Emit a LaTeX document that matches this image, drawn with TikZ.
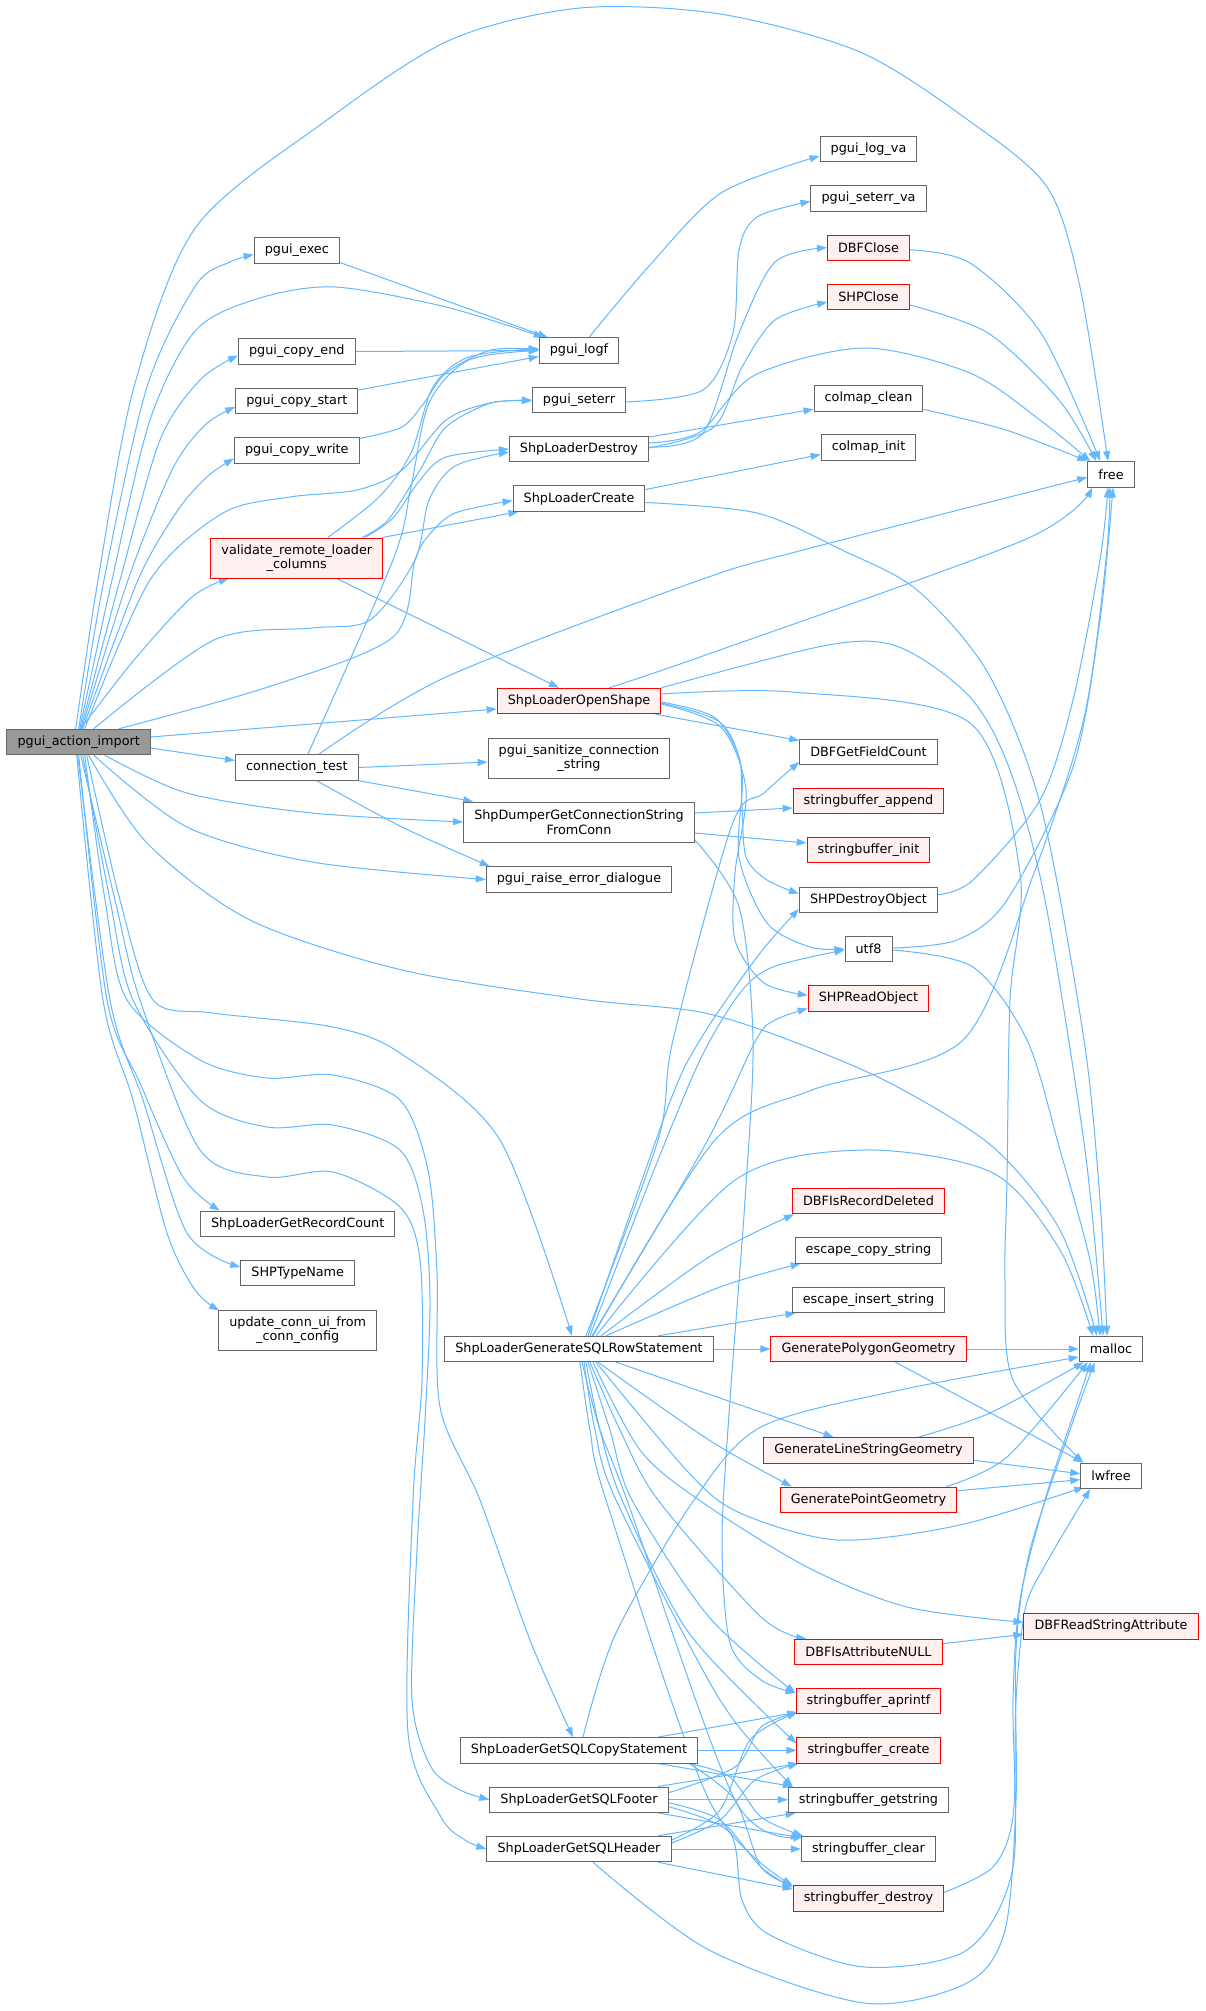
\documentclass[tikz,border=0pt]{standalone}
\usepackage{fontspec}
\setmainfont{DejaVu Sans}
\usetikzlibrary{arrows.meta}
\definecolor{edgec}{HTML}{63B8FF}
\definecolor{boxgray}{HTML}{666666}
\definecolor{rootfill}{HTML}{999999}
\definecolor{redfill}{HTML}{FFF0F0}
\pgfdeclarelayer{bg}
\pgfsetlayers{bg,main}
\tikzset{
  box/.style={draw=boxgray, fill=white, line width=1pt, font=\fontsize{12.8pt}{14.5pt}\selectfont,
    inner xsep=10.6pt, inner ysep=0pt, minimum height=25.4pt, align=center, text=black},
  hl/.style={box, draw=red, fill=redfill},
  root/.style={box, fill=rootfill},
  two/.style={minimum height=40pt},
  edge/.style={draw=edgec, line width=1pt, -{Triangle[length=10pt,width=7pt]}},
}
\begin{document}
\begin{tikzpicture}[x=1pt,y=-1pt]
\useasboundingbox (0,0) rectangle (1205,2011);
% ---------------- nodes -----------------
\node[root] (imp) at (78.7,742) {pgui\_action\_import};
\node[box] (exec) at (296.8,250.5) {pgui\_exec};
\node[box] (cend) at (296.8,351.5) {pgui\_copy\_end};
\node[box] (cstart) at (296.8,401) {pgui\_copy\_start};
\node[box] (cwrite) at (296.8,450.5) {pgui\_copy\_write};
\node[hl,two] (valid) at (296.8,558) {validate\_remote\_loader\\\_columns};
\node[box] (conn) at (296.8,767.5) {connection\_test};
\node[box] (grc) at (297.7,1223.7) {ShpLoaderGetRecordCount};
\node[box] (stn) at (297.7,1273) {SHPTypeName};
\node[box,two] (upd) at (297.7,1330) {update\_conn\_ui\_from\\\_conn\_config};
\node[box] (logf) at (579,350.5) {pgui\_logf};
\node[box] (seterr) at (579,400) {pgui\_seterr};
\node[box] (destroy) at (579,449) {ShpLoaderDestroy};
\node[box] (create) at (579,498.5) {ShpLoaderCreate};
\node[hl] (open) at (579,701) {ShpLoaderOpenShape};
\node[box,two] (sanit) at (579,758) {pgui\_sanitize\_connection\\\_string};
\node[box,two] (dumper) at (579,822) {ShpDumperGetConnectionString\\FromConn};
\node[box] (raise) at (579,879.5) {pgui\_raise\_error\_dialogue};
\node[box] (rowst) at (579,1349) {ShpLoaderGenerateSQLRowStatement};
\node[box] (copyst) at (579,1750.3) {ShpLoaderGetSQLCopyStatement};
\node[box] (footer) at (579,1799.7) {ShpLoaderGetSQLFooter};
\node[box] (header) at (579,1849) {ShpLoaderGetSQLHeader};
\node[box] (logva) at (868.5,149) {pgui\_log\_va};
\node[box] (seterrva) at (868.5,198.3) {pgui\_seterr\_va};
\node[hl] (dbfclose) at (868.5,247.7) {DBFClose};
\node[hl] (shpclose) at (868.5,297) {SHPClose};
\node[box] (cmclean) at (868.5,398.3) {colmap\_clean};
\node[box] (cminit) at (868.5,447.5) {colmap\_init};
\node[box] (dbfgfc) at (868.5,751.7) {DBFGetFieldCount};
\node[hl] (sbappend) at (868.5,801) {stringbuffer\_append};
\node[hl] (sbinit) at (868.5,850) {stringbuffer\_init};
\node[box] (shpdestroy) at (868.5,899.7) {SHPDestroyObject};
\node[box] (utf8) at (868.5,949) {utf8};
\node[hl] (shpread) at (868.5,998.3) {SHPReadObject};
\node[hl] (dbfisrd) at (868.5,1201) {DBFIsRecordDeleted};
\node[box] (esccopy) at (868.5,1250.3) {escape\_copy\_string};
\node[box] (escins) at (868.5,1299.7) {escape\_insert\_string};
\node[hl] (genpoly) at (868.5,1349) {GeneratePolygonGeometry};
\node[hl] (genline) at (868.5,1450.3) {GenerateLineStringGeometry};
\node[hl] (genpoint) at (868.5,1499.7) {GeneratePointGeometry};
\node[hl] (dbfisnull) at (868.5,1651.7) {DBFIsAttributeNULL};
\node[hl] (sbaprintf) at (868.5,1701) {stringbuffer\_aprintf};
\node[hl] (sbcreate) at (868.5,1750.3) {stringbuffer\_create};
\node[box] (sbgetstring) at (868.5,1799.7) {stringbuffer\_getstring};
\node[box] (sbclear) at (868.5,1849) {stringbuffer\_clear};
\node[hl] (sbdestroy) at (868.5,1898.3) {stringbuffer\_destroy};
\node[box] (free) at (1111,474.3) {free};
\node[box] (malloc) at (1111,1349) {malloc};
\node[box] (lwfree) at (1111,1475.7) {lwfree};
\node[hl] (dbfreadsa) at (1111,1626.3) {DBFReadStringAttribute};
% ---------------- edges -----------------
\begin{pgfonlayer}{bg}
\fill[white] (0,0) rectangle (1205,2011);
% from pgui_action_import, upward
\draw[edge] plot[smooth] coordinates {([xshift=-3pt]imp.north) (98,580) (134,387) (196,227) (327,120) (450,40) (580,8) (720,14) (860,52) (968,120) (1047,187) (1080,287) ([xshift=-3pt]free.north)};
\draw[edge] plot[smooth] coordinates {(imp.north) (104,580) (147,387) (196,285) (230,262) ([yshift=-4pt]exec.west)};
\draw[edge] plot[smooth] coordinates {([xshift=1pt]imp.north) (112,580) (150,420) (196,330) (260,298) (335,287) (446,307) ([xshift=5pt]logf.north west)};
\draw[edge] plot[smooth] coordinates {([xshift=2pt]imp.north) (120,580) (160,440) (200,380) ([yshift=-4pt]cend.west)};
\draw[edge] plot[smooth] coordinates {([xshift=3pt]imp.north) (128,580) (172,470) (205,425) ([yshift=-6pt]cstart.west)};
\draw[edge] plot[smooth] coordinates {([xshift=4pt]imp.north) (138,580) (178,510) (208,476) ([yshift=-8pt]cwrite.west)};
\draw[edge] plot[smooth] coordinates {([xshift=2pt]imp.north) (134,660) (192,597) ([xshift=-68pt]valid.south)};
\draw[edge] plot[smooth] coordinates {([xshift=6pt]imp.north) (150,580) (223,513) (290,497) (357,490) (402,470) (446,420) (490,403) (seterr.west)};
\draw[edge] plot[smooth] coordinates {([xshift=15pt]imp.north) (214,640) (312,628) (370,620) (415,560) (429,500) (455,466) ([yshift=-3pt]destroy.west)};
\draw[edge] plot[smooth] coordinates {([xshift=40pt]imp.north) (268,687) (393,637) (415,560) (429,535) (455,513) ([yshift=-2pt]create.west)};
\draw[edge] ([yshift=5pt]imp.east) -- ([yshift=-8pt]open.west);
\draw[edge] ([yshift=-6pt]imp.east) -- ([yshift=7pt]conn.west);
% from pgui_action_import, downward
\draw[edge] plot[smooth] coordinates {([xshift=26pt]imp.south) (187,793) (312,813) (dumper.west)};
\draw[edge] plot[smooth] coordinates {([xshift=15pt]imp.south) (187,827) (312,862) (raise.west)};
\draw[edge] plot[smooth] coordinates {([xshift=10pt]imp.south) (147,843) (250,920) (402,970) (580,999) (700,1012) (789,1040) (890,1083) (993,1147) (1060,1230) ([xshift=-14pt]malloc.north)};
\draw[edge] plot[smooth] coordinates {([xshift=8pt]imp.south) (120,900) (153,1000) (213,1013) (333,1027) (400,1053) (500,1140) ([xshift=-7pt]rowst.north)};
\draw[edge] plot[smooth] coordinates {([xshift=6pt]imp.south) (105,900) (127,1000) (200,1060) (267,1078) (333,1075) (400,1100) (428,1170) (437,1273) (440,1407) (480,1500) (530,1640) ([xshift=-6pt]copyst.north)};
\draw[edge] plot[smooth] coordinates {([xshift=4pt]imp.south) (110,900) (133,1000) (200,1100) (267,1127) (333,1125) (400,1150) (423,1210) (430,1300) (425,1420) (417,1550) (412,1700) (431,1767) (460,1790) (footer.west)};
\draw[edge] plot[smooth] coordinates {([xshift=2pt]imp.south) (115,900) (140,1000) (200,1150) (267,1177) (333,1172) (400,1207) (420,1260) (422,1380) (413,1500) (408,1733) (441,1817) (465,1840) (header.west)};
\draw[edge] plot[smooth] coordinates {(imp.south) (107,1000) (140,1083) (183,1177) ([xshift=-78pt]grc.north)};
\draw[edge] plot[smooth] coordinates {([xshift=-1pt]imp.south) (110,1000) (143,1100) (187,1233) ([yshift=6pt]stn.west)};
\draw[edge] plot[smooth] coordinates {([xshift=-2pt]imp.south) (103,1000) (133,1100) (167,1233) (195,1290) ([xshift=1pt,yshift=-1pt]upd.north west)};
% into pgui_logf
\draw[edge] ([yshift=-12pt]exec.east) -- ([xshift=9pt]logf.north west);
\draw[edge] (cend.east) -- (logf.west);
\draw[edge] ([yshift=11pt]cstart.east) -- ([yshift=-6pt]logf.west);
\draw[edge] plot[smooth] coordinates {([yshift=12pt]cwrite.east) (402,427) (424,403) (446,373) (491,350) ([yshift=1pt]logf.west)};
\draw[edge] plot[smooth] coordinates {([xshift=31pt]valid.north) (379,497) (411,453) (433,387) (469,357) ([yshift=2pt]logf.west)};
\draw[edge] plot[smooth] coordinates {([xshift=11pt]conn.north) (393,560) (411,487) (429,403) (469,360) (logf.west)};
% from validate_remote_loader_columns
\draw[edge] plot[smooth] coordinates {([xshift=65pt]valid.north) (388,520) (420,470) (446,427) (491,403) ([yshift=-1pt]seterr.west)};
\draw[edge] plot[smooth] coordinates {([xshift=68pt]valid.north) (393,518) (420,480) (446,457) (destroy.west)};
\draw[edge] ([xshift=-1pt]valid.north east) -- ([xshift=6pt]create.south west);
\draw[edge] ([xshift=40pt]valid.south) -- ([xshift=-20pt]open.north);
% second column to third
\draw[edge] plot[smooth] coordinates {([xshift=10pt]logf.north) (650,265) (721,193) ([yshift=-7pt]logva.west)};
\draw[edge] plot[smooth] coordinates {([yshift=-2pt]seterr.east) (703,390) (733,333) (739,250) (757,217) ([yshift=-3pt]seterrva.west)};
\draw[edge] plot[smooth] coordinates {([yshift=2pt]destroy.east) (703,433) (739,333) (775,262) (dbfclose.west)};
\draw[edge] plot[smooth] coordinates {([yshift=1pt]destroy.east) (714,427) (742,367) (775,320) ([yshift=-5pt]shpclose.west)};
\draw[edge] plot[smooth] coordinates {([yshift=6pt]destroy.east) (700,432) (755,375) (864,348) (970,373) (1040,420) ([xshift=3pt]free.north west)};
\draw[edge] ([yshift=12pt]destroy.east) -- ([yshift=-11pt]cmclean.west);
\draw[edge] ([yshift=9pt]create.east) -- ([yshift=-7pt]cminit.west);
\draw[edge] plot[smooth] coordinates {([yshift=-4pt]create.east) (757,513) (842,550) (917,590) (988,673) (1041,807) (1084,1040) (1100,1200) ([xshift=-4pt]malloc.north)};
\draw[edge] plot[smooth] coordinates {([yshift=-11pt]cmclean.east) (1006,430) (free.north west)};
\draw[edge] plot[smooth] coordinates {([yshift=-2pt]dbfclose.east) (970,263) (1041,333) ([xshift=13pt]free.north west)};
\draw[edge] plot[smooth] coordinates {([yshift=-8pt]shpclose.east) (988,333) (1059,400) ([xshift=9pt]free.north west)};
% from connection_test
\draw[edge] plot[smooth] coordinates {([xshift=22pt]conn.north) (446,677) (700,580) (803,550) ([yshift=-3pt]free.west)};
\draw[edge] (conn.east) -- ([yshift=-4pt]sanit.west);
\draw[edge] (conn.south east) -- ([xshift=10pt]dumper.north west);
\draw[edge] plot[smooth] coordinates {([xshift=20pt]conn.south) (402,827) ([xshift=4pt]raise.north west)};
% from ShpDumperGetConnectionStringFromConn
\draw[edge] ([yshift=9pt]dumper.east) -- ([yshift=-7pt]sbappend.west);
\draw[edge] ([yshift=-11pt]dumper.east) -- ([yshift=7pt]sbinit.west);
\draw[edge] plot[smooth] coordinates {([yshift=-18pt]dumper.east) (739,907) (753,1040) (745,1200) (730,1400) (722,1540) (730,1643) (761,1680) ([yshift=8pt]sbaprintf.west)};
% from ShpLoaderOpenShape
\draw[edge] plot[smooth] coordinates {([xshift=30pt]open.north) (700,657) (1024,540) ([xshift=5pt]free.south west)};
\draw[edge] plot[smooth] coordinates {(open.north east) (828,645) (899,647) (970,697) (1010,770) (1045,900) (1085,1150) ([xshift=-8pt]malloc.north)};
\draw[edge] plot[smooth] coordinates {([yshift=7pt]open.east) (792,692) (970,723) (1020,873) (1010,1000) (1007,1180) (1005,1280) (1013,1380) ([xshift=3pt]lwfree.north west)};
\draw[edge] ([xshift=-6pt]open.south east) -- ([yshift=-2pt]dbfgfc.north west);
\draw[edge] plot[smooth] coordinates {([yshift=-1pt]open.east) (714,717) (739,757) (742,807) (746,857) (767,880) ([yshift=6pt]shpdestroy.west)};
\draw[edge] plot[smooth] coordinates {([yshift=-2pt]open.east) (721,723) (742,773) (739,857) (767,923) (810,947) (utf8.west)};
\draw[edge] plot[smooth] coordinates {([yshift=-3pt]open.east) (721,727) (746,790) (735,873) (735,940) (764,983) ([yshift=3pt]shpread.west)};
% third column to free / malloc
\draw[edge] plot[smooth] coordinates {([yshift=1pt]utf8.east) (957,940) (1007,900) (1073,767) (1100,620) ([xshift=2pt]free.south)};
\draw[edge] plot[smooth] coordinates {([yshift=-1pt]utf8.east) (973,967) (1027,1040) (1060,1150) (1090,1260) ([xshift=-11pt]malloc.north)};
\draw[edge] plot[smooth] coordinates {([yshift=5pt]shpdestroy.east) (973,880) (1040,800) (1073,700) (1100,560) ([xshift=-3pt]free.south)};
% from ShpLoaderGenerateSQLRowStatement, upward
\draw[edge] plot[smooth] coordinates {([xshift=7pt]rowst.north) (658,1140) (673,1040) (732,825) (764,793) ([yshift=3pt]dbfgfc.south west)};
\draw[edge] plot[smooth] coordinates {([xshift=9pt]rowst.north) (668,1107) (700,1040) (757,957) ([yshift=4pt]shpdestroy.south west)};
\draw[edge] plot[smooth] coordinates {([xshift=11pt]rowst.north) (650,1180) (700,1060) (740,993) (773,967) ([yshift=-1pt]utf8.west)};
\draw[edge] plot[smooth] coordinates {([xshift=13pt]rowst.north) (705,1145) (756,1040) (775,1020) ([yshift=3pt]shpread.south west)};
\draw[edge] plot[smooth] coordinates {([xshift=14pt]rowst.north) (715,1140) (812,1090) (963,1040) (1034,873) (1084,718) (1106,560) ([xshift=-1pt]free.south)};
\draw[edge] plot[smooth] coordinates {([xshift=17pt]rowst.north) (735,1180) (864,1150) (993,1173) (1060,1250) ([xshift=-18pt]malloc.north)};
\draw[edge] plot[smooth] coordinates {([xshift=22pt]rowst.north) (709,1257) ([xshift=2pt]dbfisrd.south west)};
\draw[edge] plot[smooth] coordinates {([xshift=27pt]rowst.north) (720,1287) ([xshift=6pt]esccopy.south west)};
\draw[edge] ([xshift=79pt]rowst.north) -- ([xshift=4pt]escins.south west);
\draw[edge] (rowst.east) -- (genpoly.west);
% from ShpLoaderGenerateSQLRowStatement, downward
\draw[edge] ([xshift=37pt]rowst.south) -- ([xshift=-35pt]genline.north);
\draw[edge] plot[smooth] coordinates {([xshift=19pt]rowst.south) (709,1440) ([xshift=12pt]genpoint.north west)};
\draw[edge] plot[smooth] coordinates {([xshift=17pt]rowst.south) (689,1473) (740,1513) (838,1540) (960,1525) ([xshift=4pt,yshift=2pt]lwfree.south west)};
\draw[edge] plot[smooth] coordinates {([xshift=14pt]rowst.south) (640,1450) (699,1500) (807,1567) (907,1607) ([yshift=4pt]dbfreadsa.west)};
\draw[edge] plot[smooth] coordinates {([xshift=11pt]rowst.south) (620,1430) (658,1500) (761,1617) ([xshift=12pt]dbfisnull.north west)};
\draw[edge] plot[smooth] coordinates {([xshift=9pt]rowst.south) (610,1430) (632,1500) (709,1617) ([yshift=8pt]sbaprintf.west)};
\draw[edge] plot[smooth] coordinates {([xshift=7pt]rowst.south) (600,1430) (622,1500) (689,1633) ([yshift=7pt]sbcreate.west)};
\draw[edge] plot[smooth] coordinates {([xshift=5pt]rowst.south) (595,1430) (616,1500) (720,1700) ([xshift=5pt]sbgetstring.north west)};
\draw[edge] plot[smooth] coordinates {([xshift=3pt]rowst.south) (600,1430) (627,1500) (735,1800) ([xshift=2pt]sbclear.north west)};
\draw[edge] plot[smooth] coordinates {([xshift=1pt]rowst.south) (590,1430) (606,1500) (709,1800) (sbdestroy.north west)};
% from ShpLoaderGetSQLCopyStatement
\draw[edge] ([xshift=79pt]copyst.north) -- ([xshift=2pt,yshift=2pt]sbaprintf.south west);
\draw[edge] (copyst.east) -- (sbcreate.west);
\draw[edge] ([xshift=79pt]copyst.south) -- ([xshift=5pt]sbgetstring.north west);
\draw[edge] plot[smooth] coordinates {([xshift=110pt]copyst.south) (730,1777) (761,1817) ([xshift=2pt]sbclear.north west)};
\draw[edge] plot[smooth] coordinates {([xshift=110pt]copyst.south) (735,1800) (761,1867) (sbdestroy.north west)};
\draw[edge] plot[smooth] coordinates {([xshift=4pt]copyst.north) (616,1633) (694,1500) (761,1427) (900,1390) ([yshift=-8pt]malloc.west)};
% from ShpLoaderGetSQLFooter
\draw[edge] plot[smooth] coordinates {([yshift=7pt]footer.east) (735,1767) (761,1727) ([xshift=2pt,yshift=2pt]sbaprintf.south west)};
\draw[edge] ([xshift=79pt]footer.north) -- ([xshift=2pt]sbcreate.south west);
\draw[edge] (footer.east) -- (sbgetstring.west);
\draw[edge] ([xshift=79pt]footer.south) -- ([yshift=-2pt]sbclear.north west);
\draw[edge] plot[smooth] coordinates {([yshift=-3pt]footer.east) (720,1820) (761,1867) ([yshift=-2pt]sbdestroy.north west)};
\draw[edge] plot[smooth] coordinates {([yshift=-7pt]footer.east) (730,1833) (742,1900) (770,1935) (864,1967) (967,1950) (1013,1867) (1013,1700) (1020,1600) (1045,1500) (1075,1410) ([xshift=12pt]malloc.south west)};
% from ShpLoaderGetSQLHeader
\draw[edge] plot[smooth] coordinates {([yshift=9pt]header.east) (720,1810) (750,1740) ([xshift=2pt,yshift=2pt]sbaprintf.south west)};
\draw[edge] plot[smooth] coordinates {([yshift=6pt]header.east) (720,1820) (755,1780) ([xshift=2pt]sbcreate.south west)};
\draw[edge] ([xshift=79pt]header.north) -- ([xshift=8pt]sbgetstring.south west);
\draw[edge] (header.east) -- (sbclear.west);
\draw[edge] ([xshift=79pt]header.south) -- ([yshift=-4pt]sbdestroy.north west);
\draw[edge] plot[smooth] coordinates {([xshift=14pt]header.south) (709,1950) (864,2003) (967,1983) (1005,1930) (1016,1800) (1016,1650) (1030,1550) (1070,1430) ([xshift=16pt]malloc.south west)};
% third column to fourth
\draw[edge] plot[smooth] coordinates {([yshift=6pt]sbdestroy.east) (993,1867) (1013,1817) (1016,1700) (1025,1610) (1044,1567) ([xshift=10pt]lwfree.south west)};
\draw[edge] (genpoly.east) -- (malloc.west);
\draw[edge] ([xshift=27pt]genpoly.south) -- ([xshift=3pt]lwfree.north west);
\draw[edge] plot[smooth] coordinates {([xshift=50pt]genline.north) (990,1413) ([xshift=5pt]malloc.south west)};
\draw[edge] ([yshift=-10pt]genline.east) -- ([yshift=2pt]lwfree.west);
\draw[edge] plot[smooth] coordinates {([xshift=78pt]genpoint.north) (1007,1457) ([xshift=9pt]malloc.south west)};
\draw[edge] ([yshift=9pt]genpoint.east) -- ([yshift=-4pt]lwfree.west);
\draw[edge] ([yshift=8pt]dbfisnull.east) -- ([yshift=-8pt]dbfreadsa.west);
\end{pgfonlayer}
\end{tikzpicture}
\end{document}
